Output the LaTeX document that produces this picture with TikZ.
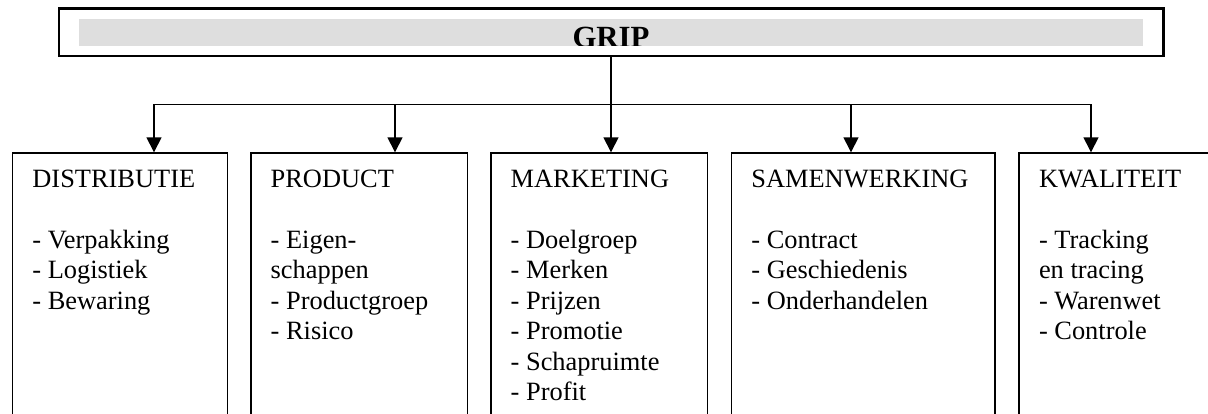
\documentclass[tikz,border=0pt]{standalone}
\usepackage{fontspec}
\setmainfont{Liberation Serif}
\usetikzlibrary{arrows.meta}
\definecolor{bandgray}{HTML}{DEDEDE}
\tikzset{
  catbox/.style={draw=black, line width=1.5pt, rectangle, anchor=north west, inner sep=0pt, minimum height=300pt},
  topbox/.style={draw=black, line width=2.4pt, rectangle, inner sep=0pt, minimum width=1104.6pt, minimum height=47.6pt},
  conn/.style={draw=black, line width=1.5pt},
  arr/.style={conn, -{Triangle[length=15pt, width=15pt]}},
  txt/.style={anchor=base west, inner sep=0pt, font=\fontsize{26.4}{30.5}\selectfont},
}
\newcommand{\colbox}[1]{\parbox[t]{240pt}{\raggedright #1}}
\begin{document}
\begin{tikzpicture}[x=1pt, y=-1pt]
\useasboundingbox (0,0) rectangle (1208,414);
\clip (0,0) rectangle (1208,414);
% top box
\node[topbox] (grip) at (611,32.5) {};
\fill[bandgray] (79,19.3) rectangle (1143,45.7);
\begin{scope}
  \clip (79,19.3) rectangle (1143,45.7);
  \node[anchor=base, inner sep=0pt, font=\fontsize{30.8}{34}\selectfont\bfseries] (griptxt) at (611,48) {GRIP};
\end{scope}
% category boxes
\node[catbox, minimum width=215pt] (dist) at (11.7,152.3) {};
\node[catbox, minimum width=216.7pt] (prod) at (250,152.3) {};
\node[catbox, minimum width=216.7pt] (mark) at (490,152.3) {};
\node[catbox, minimum width=263.6pt] (samen) at (730.7,152.3) {};
\node[catbox, minimum width=220pt] (kwal) at (1018.3,152.3) {};
% texts
\node[txt] (tdist) at ([xshift=20.5pt, yshift=-35.2pt]dist.north west) {\colbox{DISTRIBUTIE\\\mbox{}\\- Verpakking\\- Logistiek\\- Bewaring}};
\node[txt] (tprod) at ([xshift=20.5pt, yshift=-35.2pt]prod.north west) {\colbox{PRODUCT\\\mbox{}\\- Eigen-\\schappen\\- Productgroep\\- Risico}};
\node[txt] (tmark) at ([xshift=20.5pt, yshift=-35.2pt]mark.north west) {\colbox{MARKETING\\\mbox{}\\- Doelgroep\\- Merken\\- Prijzen\\- Promotie\\- Schapruimte\\- Profit}};
\node[txt] (tsamen) at ([xshift=20.5pt, yshift=-35.2pt]samen.north west) {\colbox{SAMENWERKING\\\mbox{}\\- Contract\\- Geschiedenis\\- Onderhandelen}};
\node[txt] (tkwal) at ([xshift=20.5pt, yshift=-35.2pt]kwal.north west) {\colbox{KWALITEIT\\\mbox{}\\- Tracking\\en tracing\\- Warenwet\\- Controle}};
% connectors
\coordinate (bm) at (611,104.5);
\coordinate (b1) at (154,104.5);
\coordinate (b2) at (395,104.5);
\coordinate (b4) at (851,104.5);
\coordinate (b5) at (1091,104.5);
\draw[conn] (grip.south) -- (bm);
\draw[conn] (b1) -- (b5);
\draw[arr] (b1) -- (b1 |- dist.north);
\draw[arr] (b2) -- (b2 |- prod.north);
\draw[arr] (bm) -- (bm |- mark.north);
\draw[arr] (b4) -- (b4 |- samen.north);
\draw[arr] (b5) -- (b5 |- kwal.north);
\end{tikzpicture}
\end{document}
